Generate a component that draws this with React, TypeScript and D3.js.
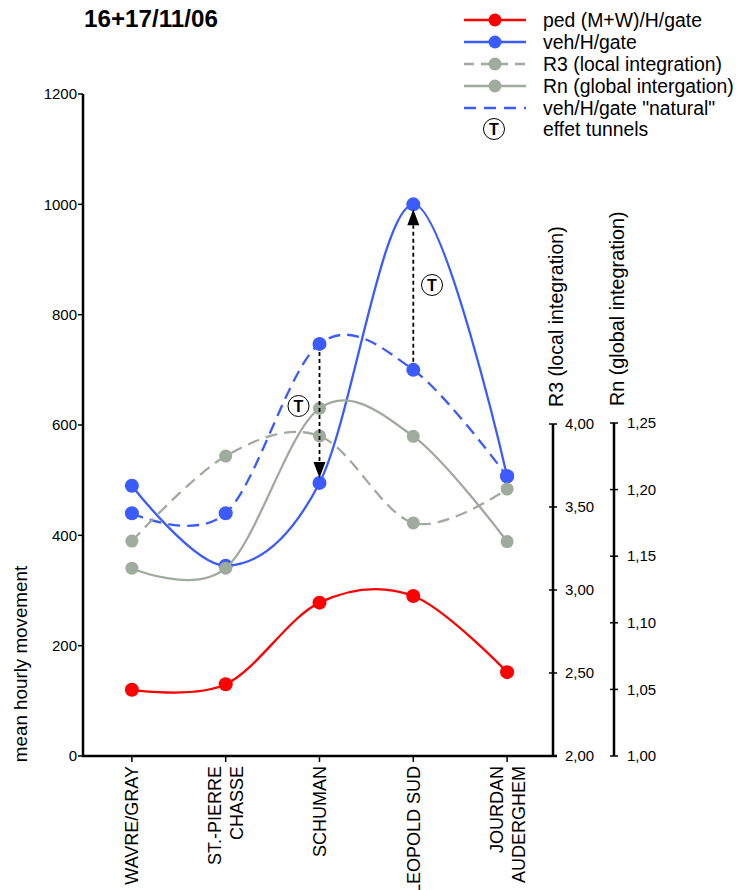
import React from "react";
import * as d3 from "d3";

const categories = ["WAVRE/GRAY", "ST.-PIERRE|CHASSE", "SCHUMAN", "LEOPOLD SUD", "JOURDAN|AUDERGHEM"];
const pedValues = [120, 130, 278, 290, 152];
const vehValues = [490, 345, 495, 1000, 507];
const vehNaturalValues = [440, 440, 747, 700, 507];
const r3Values = [3.295, 3.807, 3.928, 3.404, 3.608];
const rnValues = [1.141, 1.141, 1.261, 1.24, 1.161];
const leftTicks = [0, 200, 400, 600, 800, 1000, 1200];
const r3Ticks = [2, 2.5, 3, 3.5, 4];
const rnTicks = [1, 1.05, 1.1, 1.15, 1.2, 1.25];
const tunnelArrows = [
  { cat: 2, from: 747, to: 495 },
  { cat: 3, from: 700, to: 1000 },
];
const legendItems = [
  { label: "ped (M+W)/H/gate", color: "#ff0000", dash: null, marker: true },
  { label: "veh/H/gate", color: "#3b5bfc", dash: null, marker: true },
  { label: "R3 (local integration)", color: "#9fab9d", dash: "10,7", marker: true },
  { label: "Rn (global intergation)", color: "#9fab9d", dash: null, marker: true },
  { label: "veh/H/gate \"natural\"", color: "#3b5bfc", dash: "12,8", marker: false },
];

const RED = "#ff0000";
const BLUE = "#3b5bfc";
const GRAY = "#9fab9d";
const FONT = "'Liberation Sans', Arial, sans-serif";

export default function App() {
  const x = d3.scalePoint<number>().domain(d3.range(categories.length)).range([85, 554]).padding(0.5);
  const y = d3.scaleLinear().domain([0, 1200]).range([756, 94]);
  const yR3 = d3.scaleLinear().domain([2, 4]).range([756, 424]);
  const yRn = d3.scaleLinear().domain([1, 1.25]).range([756, 423]);
  const curve = d3.curveCardinal.tension(0);

  const mkLine = (vals: number[], sc: d3.ScaleLinear<number, number>) =>
    d3.line<number>().x((_, i) => x(i)!).y((v) => sc(v)).curve(curve)(vals) || "";

  const fmt = (v: number) => d3.format(".2f")(v).replace(".", ",");

  const series = [
    { vals: vehValues, sc: y, color: BLUE, dash: null as string | null, r: 7 },
    { vals: vehNaturalValues, sc: y, color: BLUE, dash: "12,7", r: 7 },
    { vals: r3Values, sc: yR3, color: GRAY, dash: "12,7", r: 6.5 },
    { vals: rnValues, sc: yRn, color: GRAY, dash: null, r: 6.5 },
    { vals: pedValues, sc: y, color: RED, dash: null, r: 7 },
  ];

  const tSymbol = (cx: number, cy: number, key: string) => (
    <g key={key}>
      <circle cx={cx} cy={cy} r={10.5} fill="#fff" stroke="#000" strokeWidth={1} />
      <text x={cx} y={cy + 5.5} textAnchor="middle" fontSize={16} fontWeight="bold" fontFamily={FONT}>T</text>
    </g>
  );

  return (
    <svg width={740} height={890} style={{ position: "absolute", left: 0, top: 0, background: "#fff" }} fontFamily={FONT}>
      <rect width={740} height={890} fill="#fff" />
      {/* title */}
      <text x={84} y={27} fontSize={24.2} fontWeight="bold">16+17/11/06</text>

      {/* left axis */}
      <line x1={83} x2={83} y1={y(1200)} y2={y(0)} stroke="#000" strokeWidth={2.5} />
      {leftTicks.map((t) => (
        <g key={t}>
          <line x1={78} x2={83} y1={y(t)} y2={y(t)} stroke="#000" strokeWidth={1.5} />
          <text x={77} y={y(t)} dy="0.35em" textAnchor="end" fontSize={15}>{t}</text>
        </g>
      ))}
      <text transform={`translate(27,664) rotate(-90)`} textAnchor="middle" fontSize={18.8}>mean hourly movement</text>

      {/* x axis */}
      <line x1={82} x2={557} y1={756} y2={756} stroke="#000" strokeWidth={2.5} />
      {categories.map((c, i) => {
        const lines = c.split("|");
        const n = lines.length;
        return (
          <g key={c}>
            <line x1={x(i)!} x2={x(i)!} y1={756} y2={762} stroke="#000" strokeWidth={1.5} />
            {lines.map((ln, j) => {
              const bx = x(i)! + (j - (n - 1) / 2) * 22 + 6.4;
              return (
                <text key={ln} transform={`translate(${bx},766) rotate(-90)`} textAnchor="end" fontSize={18}>{ln}</text>
              );
            })}
          </g>
        );
      })}

      {/* R3 axis */}
      <line x1={553} x2={553} y1={yR3(4)} y2={yR3(2)} stroke="#000" strokeWidth={2.5} />
      {r3Ticks.map((t) => (
        <g key={t}>
          <line x1={549} x2={557} y1={yR3(t)} y2={yR3(t)} stroke="#000" strokeWidth={1.5} />
          <text x={565} y={yR3(t)} dy="0.35em" fontSize={15}>{fmt(t)}</text>
        </g>
      ))}
      <text transform={`translate(563,407) rotate(-90)`} fontSize={19.6}>R3 (local integration)</text>

      {/* Rn axis */}
      <line x1={614} x2={614} y1={yRn(1.25)} y2={yRn(1)} stroke="#000" strokeWidth={2.5} />
      {rnTicks.map((t) => (
        <g key={t}>
          <line x1={610} x2={618} y1={yRn(t)} y2={yRn(t)} stroke="#000" strokeWidth={1.5} />
          <text x={627} y={yRn(t)} dy="0.35em" fontSize={15}>{fmt(t)}</text>
        </g>
      ))}
      <text transform={`translate(624,406) rotate(-90)`} fontSize={19.8}>Rn (global integration)</text>

      {/* series */}
      {series.map((s, k) => (
        <g key={k}>
          <path d={mkLine(s.vals, s.sc)} fill="none" stroke={s.color} strokeWidth={2.3} strokeDasharray={s.dash || undefined} />
          {s.vals.map((v, i) => (
            <circle key={i} cx={x(i)!} cy={s.sc(v)} r={s.r} fill={s.color} />
          ))}
        </g>
      ))}

      {/* tunnel arrows */}
      {tunnelArrows.map((a, k) => {
        const cx = x(a.cat)!;
        const y0 = y(a.from);
        const y1 = y(a.to);
        const dir = y1 > y0 ? 1 : -1;
        const tip = y1 - dir * 5;
        const base = tip - dir * 16;
        return (
          <g key={k}>
            <line x1={cx} x2={cx} y1={y0 + dir * 8} y2={base} stroke="#000" strokeWidth={1.8} strokeDasharray="4,3" />
            <path d={`M${cx - 6},${base} L${cx + 6},${base} L${cx},${tip} Z`} fill="#000" />
          </g>
        );
      })}
      {tSymbol(298.5, 406, "t1")}
      {tSymbol(432, 285, "t2")}

      {/* legend */}
      {legendItems.map((it, i) => {
        const ly = 20 + i * 22;
        return (
          <g key={it.label}>
            <line x1={464} x2={526} y1={ly} y2={ly} stroke={it.color} strokeWidth={2.5} strokeDasharray={it.dash || undefined} />
            {it.marker && <circle cx={495} cy={ly} r={6.5} fill={it.color} />}
            <text x={543} y={ly + 7} fontSize={19.4}>{it.label}</text>
          </g>
        );
      })}
      {tSymbol(494, 129, "tl")}
      <text x={543} y={136} fontSize={19.4}>effet tunnels</text>
    </svg>
  );
}
